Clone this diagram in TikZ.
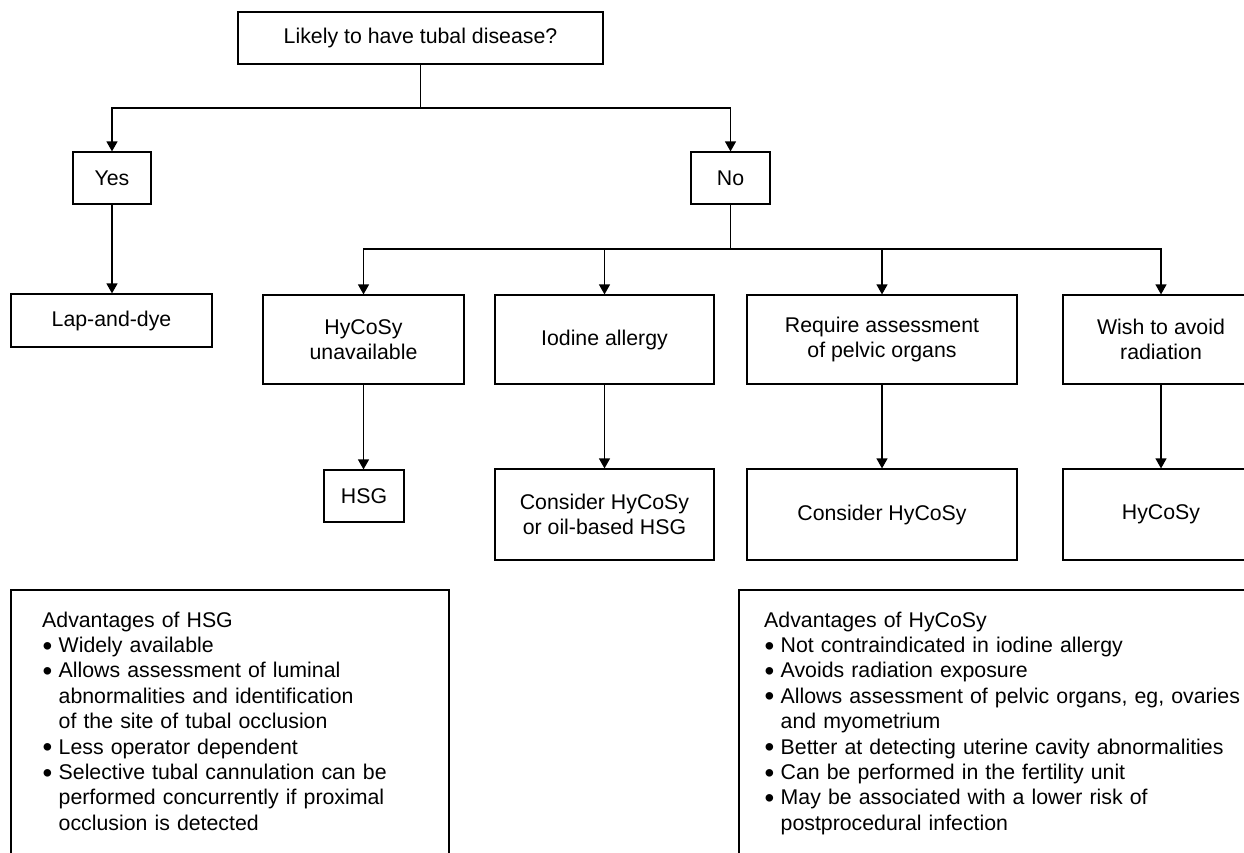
\documentclass[tikz,border=0pt]{standalone}
\usepackage{fontspec}
\setmainfont{Liberation Sans}
\usetikzlibrary{arrows.meta}
\tikzset{
  box/.style={draw, line width=1.2pt, inner sep=0pt, align=center,
    font=\fontsize{21.3}{24.5}\selectfont},
  arr/.style={line width=1.2pt, -{Triangle[width=11pt,length=10pt]}},
  ln/.style={line width=1.2pt},
  advtext/.style={anchor=north west, inner sep=0pt, text width=#1,
    font=\fontsize{21.3}{25.4}\selectfont},
}
\newcommand\bitem[1]{\par\noindent\makebox[16.5pt][l]{\hspace{0.5pt}\raisebox{-2.6pt}[0pt][0pt]{\scalebox{1.3}{\textbullet}}}#1}
\newcommand\bcont[1]{\par\noindent\hspace*{16.5pt}#1}
\begin{document}
\begin{tikzpicture}[x=1pt,y=-1pt]
\useasboundingbox (0,0) rectangle (1244,852);
\clip (0,0) rectangle (1244,852);

% level 0
\node[box, minimum width=365pt, minimum height=52pt] (top) at (420.5,38) {Likely to have tubal disease?};
% level 1
\node[box, minimum width=78pt, minimum height=52pt] (yes) at (112,178) {Yes};
\node[box, minimum width=79pt, minimum height=52pt] (no) at (730.5,178) {No};
\node[box, minimum width=201pt, minimum height=53pt] (lap) at (111.5,320.5) {Lap-and-dye};
% level 2
\node[box, minimum width=201pt, minimum height=89pt] (hyu) at (363.5,339.5) {HyCoSy\\unavailable};
\node[box, minimum width=219pt, minimum height=89pt] (iod) at (604.5,339.5) {Iodine allergy};
\node[box, minimum width=270pt, minimum height=89pt] (req) at (882,339.5) {Require assessment\\of pelvic organs};
\node[box, minimum width=196pt, minimum height=89pt] (wish) at (1161,339.5) {Wish to avoid\\radiation};
% level 3
\node[box, minimum width=80pt, minimum height=52pt] (hsg) at (364,496) {HSG};
\node[box, minimum width=219pt, minimum height=91pt] (conio) at (604.5,514.5) {Consider HyCoSy\\or oil-based HSG};
\node[box, minimum width=270pt, minimum height=91pt] (conhy) at (882,514.5) {Consider HyCoSy};
\node[box, minimum width=196pt, minimum height=91pt] (hyc) at (1161,514.5) {HyCoSy};

% connectors
\coordinate (j1) at (420.5,108);
\coordinate (j2) at (729.5,249);
\draw[ln] (top.south) -- (j1);
\draw[arr] (j1) -| (yes.north);
\draw[arr] (j1) -| (no.north);
\draw[arr] (yes.south) -- (yes.south |- lap.north);
\draw[ln] (no.south) -- (no.south |- j2);
\draw[arr] (j2) -| (hyu.north);
\draw[arr] (j2) -| (iod.north);
\draw[arr] (j2) -| (req.north);
\draw[arr] (j2) -| (wish.north);
\draw[arr] (hyu.south) -- (hyu.south |- hsg.north);
\draw[arr] (iod.south) -- (conio.north);
\draw[arr] (req.south) -- (conhy.north);
\draw[arr] (wish.south) -- (hyc.north);

% advantages boxes (cut off by the page edge)
\draw[ln] (11,900) -- (11,590) -- (449,590) -- (449,900);
\draw[ln] (739,900) -- (739,590) -- (1300,590);

\node[advtext=400pt] (advhsg) at (42,611.5) {\noindent Advantages of HSG
\bitem{Widely available}
\bitem{Allows assessment of luminal}
\bcont{abnormalities and identification}
\bcont{of the site of tubal occlusion}
\bitem{Less operator dependent}
\bitem{Selective tubal cannulation can be}
\bcont{performed concurrently if proximal}
\bcont{occlusion is detected}};

\node[advtext=520pt] (advhy) at (764,611.5) {\noindent Advantages of HyCoSy
\bitem{Not contraindicated in iodine allergy}
\bitem{Avoids radiation exposure}
\bitem{Allows assessment of pelvic organs, eg, ovaries}
\bcont{and myometrium}
\bitem{Better at detecting uterine cavity abnormalities}
\bitem{Can be performed in the fertility unit}
\bitem{May be associated with a lower risk of}
\bcont{postprocedural infection}};
\end{tikzpicture}
\end{document}
